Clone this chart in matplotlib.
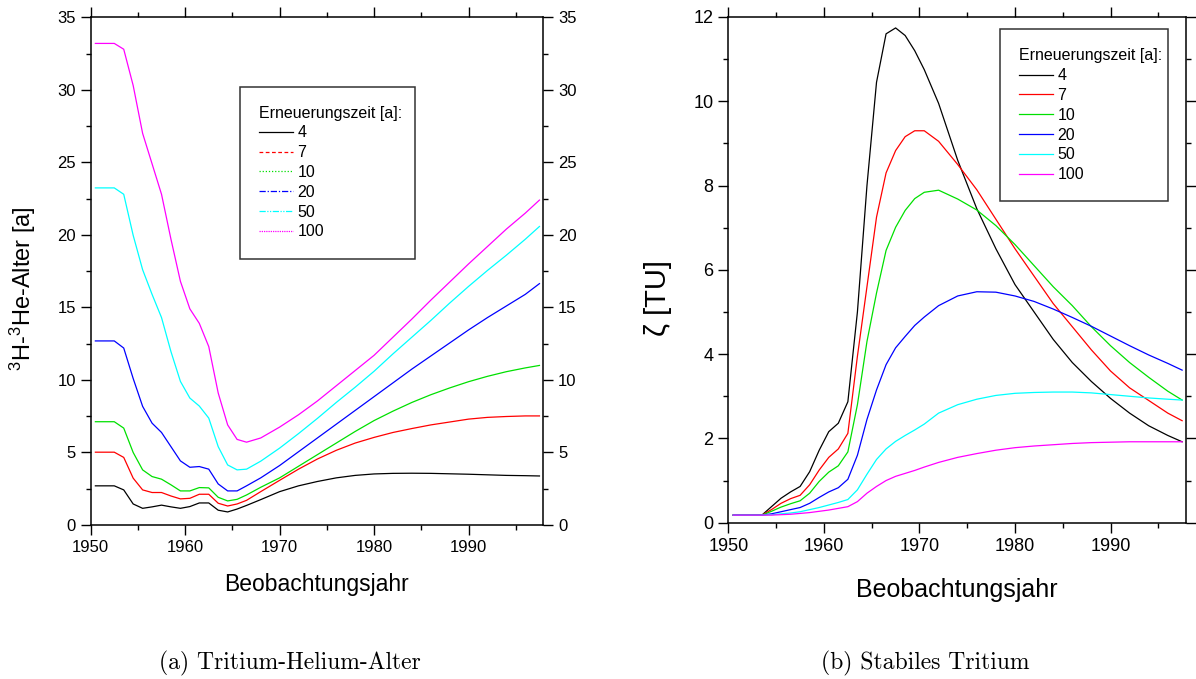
import matplotlib
matplotlib.use('Agg')
import matplotlib.pyplot as plt
from matplotlib.lines import Line2D
from matplotlib.ticker import MultipleLocator

plt.rcParams['font.family'] = ['Liberation Sans', 'DejaVu Sans']

# ---------------- data ----------------
renewal = ['4', '7', '10', '20', '50', '100']
colors = ['black', 'red', '#00e000', 'blue', 'cyan', 'magenta']

# (a) 3H-3He age [a]
years_age = [1950.5, 1951.5, 1952.5, 1953.5, 1954.5, 1955.5, 1956.5, 1957.5, 1958.5,
             1959.5, 1960.5, 1961.5, 1962.5, 1963.5, 1964.5, 1965.5, 1966.5,
             1968, 1970, 1972, 1974, 1976, 1978, 1980, 1982, 1984, 1986, 1988,
             1990, 1992, 1994, 1996, 1997.5]
age_4 = [2.7, 2.7, 2.7, 2.42, 1.45, 1.15, 1.25, 1.37, 1.25, 1.15, 1.27, 1.52, 1.52,
         1.02, 0.9, 1.1, 1.35,
         1.75, 2.3, 2.7, 3.0, 3.25, 3.42, 3.52, 3.56, 3.57, 3.56, 3.53, 3.5, 3.46,
         3.42, 3.4, 3.38]
age_7 = [5.02, 5.02, 5.02, 4.66, 3.23, 2.42, 2.24, 2.24, 2.0, 1.8, 1.84, 2.12, 2.12,
         1.5, 1.31, 1.45, 1.7,
         2.3, 3.08, 3.85, 4.55, 5.15, 5.65, 6.04, 6.38, 6.65, 6.9, 7.1, 7.3, 7.42,
         7.48, 7.52, 7.52]
age_10 = [7.12, 7.12, 7.12, 6.68, 5.0, 3.8, 3.34, 3.16, 2.77, 2.35, 2.35, 2.58, 2.56,
          1.91, 1.66, 1.77, 2.07,
          2.6, 3.25, 4.05, 4.85, 5.65, 6.45, 7.2, 7.85, 8.45, 8.98, 9.45, 9.88,
          10.25, 10.57, 10.83, 11.0]
age_20 = [12.69, 12.69, 12.69, 12.2, 10.1, 8.18, 7.02, 6.38, 5.4, 4.42, 3.98, 4.03,
          3.85, 2.83, 2.35, 2.35, 2.7,
          3.25, 4.1, 5.05, 6.0, 6.95, 7.9, 8.85, 9.8, 10.75, 11.65, 12.55, 13.45,
          14.3, 15.1, 15.9, 16.64]
age_50 = [23.24, 23.24, 23.24, 22.8, 19.97, 17.6, 15.9, 14.3, 11.95, 9.9, 8.75, 8.2,
          7.37, 5.4, 4.14, 3.8, 3.85,
          4.4, 5.3, 6.3, 7.35, 8.45, 9.5, 10.6, 11.8, 12.95, 14.1, 15.3, 16.45,
          17.55, 18.6, 19.7, 20.58]
age_100 = [33.2, 33.2, 33.2, 32.8, 30.3, 27.0, 24.9, 22.8, 19.7, 16.8, 14.9, 13.9,
           12.3, 9.1, 6.9, 5.9, 5.71,
           6.0, 6.75, 7.6, 8.55, 9.6, 10.65, 11.7, 12.95, 14.2, 15.5, 16.75, 18.0,
           19.2, 20.4, 21.5, 22.4]

# (b) stable tritium zeta [TU]
years_trit = [1950.5, 1951.5, 1952.5, 1953.5, 1954.5, 1955.5, 1956.5, 1957.5, 1958.5,
              1959.5, 1960.5, 1961.5, 1962.5, 1963.5, 1964.5, 1965.5, 1966.5, 1967.5,
              1968.5, 1969.5, 1970.5, 1972, 1974, 1976, 1978, 1980, 1982, 1984, 1986,
              1988, 1990, 1992, 1994, 1996, 1997.5]
trit_4 = [0.18, 0.18, 0.18, 0.18, 0.38, 0.58, 0.73, 0.86, 1.21, 1.72, 2.16, 2.36, 2.87,
          5.0, 8.0, 10.45, 11.6, 11.74, 11.56, 11.2, 10.75,
          9.95, 8.6, 7.45, 6.5, 5.65, 5.0, 4.35, 3.8, 3.35, 2.95, 2.6, 2.3,
          2.07, 1.92]
trit_7 = [0.18, 0.18, 0.18, 0.18, 0.31, 0.46, 0.57, 0.65, 0.9, 1.25, 1.55, 1.75, 2.12,
          3.95, 5.6, 7.25, 8.3, 8.83, 9.16, 9.3, 9.3,
          9.05, 8.5, 7.9, 7.2, 6.5, 5.85, 5.2, 4.65, 4.1, 3.6, 3.2, 2.9, 2.6,
          2.42]
trit_10 = [0.18, 0.18, 0.18, 0.18, 0.27, 0.37, 0.45, 0.52, 0.7, 0.98, 1.2, 1.35, 1.68,
           2.8, 4.3, 5.45, 6.46, 7.01, 7.41, 7.69, 7.84,
           7.89, 7.68, 7.42, 7.05, 6.6, 6.1, 5.6, 5.15, 4.65, 4.2, 3.8, 3.45,
           3.12, 2.91]
trit_20 = [0.18, 0.18, 0.18, 0.18, 0.21, 0.26, 0.31, 0.36, 0.46, 0.6, 0.73, 0.83, 1.03,
           1.6, 2.45, 3.15, 3.75, 4.15, 4.42, 4.68, 4.88,
           5.15, 5.38, 5.48, 5.47, 5.38, 5.25, 5.07, 4.87, 4.66, 4.43, 4.2,
           3.98, 3.78, 3.62]
trit_50 = [0.18, 0.18, 0.18, 0.18, 0.19, 0.21, 0.23, 0.26, 0.31, 0.36, 0.42, 0.48,
           0.55, 0.78, 1.15, 1.5, 1.75, 1.93, 2.07, 2.2, 2.34,
           2.6, 2.8, 2.93, 3.02, 3.07, 3.09, 3.1, 3.1, 3.08, 3.04, 3.0, 2.96,
           2.93, 2.91]
trit_100 = [0.18, 0.18, 0.18, 0.18, 0.18, 0.19, 0.2, 0.22, 0.24, 0.27, 0.3, 0.34,
            0.38, 0.5, 0.7, 0.86, 1.0, 1.1, 1.17, 1.24, 1.32,
            1.43, 1.55, 1.64, 1.72, 1.78, 1.82, 1.85, 1.88, 1.9, 1.91, 1.92,
            1.92, 1.92, 1.92]

ages = [age_4, age_7, age_10, age_20, age_50, age_100]
trits = [trit_4, trit_7, trit_10, trit_20, trit_50, trit_100]
legend_styles_a = ['-', (0, (3, 2)), (0, (1, 1.5)), (0, (5, 1.5, 1, 1.5)),
                   (0, (5, 1.2, 1, 1.2, 1, 1.2)), (0, (1, 0.8))]

fig = plt.figure(figsize=(11.96, 6.79), dpi=100)
ax1 = fig.add_axes([0.0758, 0.2268, 0.3784, 0.7477])
ax2 = fig.add_axes([0.6091, 0.2302, 0.3825, 0.7448])


def style_axes(ax, ymax, ymaj, ymin, right_labels):
    ax.set_xlim(1950, 1997.9)
    ax.set_ylim(0, ymax)
    ax.xaxis.set_major_locator(MultipleLocator(10))
    ax.xaxis.set_minor_locator(MultipleLocator(5))
    ax.yaxis.set_major_locator(MultipleLocator(ymaj))
    ax.yaxis.set_minor_locator(MultipleLocator(ymin))
    ax.tick_params(which='both', direction='out', top=True, right=True,
                   labelright=right_labels, width=1.0)
    ax.tick_params(which='major', length=7.2)
    ax.tick_params(which='minor', length=3.6)
    for s in ax.spines.values():
        s.set_linewidth(1.1)


def make_legend(ax, handles, anchor):
    leg = ax.legend(handles, renewal, title='Erneuerungszeit [a]:',
                    loc='upper left', bbox_to_anchor=anchor,
                    mode='expand', borderaxespad=0, alignment='left',
                    fontsize=11.5, title_fontsize=11.5, handlelength=2.1,
                    handletextpad=0.3, labelspacing=0.3, borderpad=1.2,
                    fancybox=False, framealpha=1)
    leg.get_frame().set_edgecolor('#333333')
    leg.get_frame().set_linewidth(1.1)
    return leg


# ---------------- (a) ----------------
for vals, c in zip(ages, colors):
    ax1.plot(years_age, vals, color=c, lw=0.9)
style_axes(ax1, 35, 5, 2.5, True)
ax1.tick_params(axis='both', which='major', labelsize=12, pad=3.5)
ax1.set_xlabel('Beobachtungsjahr', fontsize=16.5, va='center')
ax1.xaxis.set_label_coords(0.5, -0.118)
ax1.set_ylabel(r'$\mathregular{^3}$H-$\mathregular{^3}$He-Alter [a]',
               fontsize=17, va='center')
ax1.yaxis.set_label_coords(-0.15, 0.465)

handles_a = [Line2D([], [], color=c, lw=0.9, linestyle=ls)
             for c, ls in zip(colors, legend_styles_a)]
make_legend(ax1, handles_a, (0.33, 0.8637, 0.3865, 0.0))

# ---------------- (b) ----------------
for vals, c in zip(trits, colors):
    ax2.plot(years_trit, vals, color=c, lw=0.9)
style_axes(ax2, 12, 2, 1, False)
ax2.tick_params(axis='both', which='major', labelsize=13, pad=3.5)
ax2.set_xlabel('Beobachtungsjahr', fontsize=18, va='center')
ax2.xaxis.set_label_coords(0.5, -0.133)
ax2.set_ylabel('ζ [TU]', fontsize=21, va='center')
ax2.yaxis.set_label_coords(-0.154, 0.444)

handles_b = [Line2D([], [], color=c, lw=0.9) for c in colors]
make_legend(ax2, handles_b, (0.5934, 0.9757, 0.368, 0.0))

# captions
fig.text(290 / 1196, 1 - 663 / 679, '(a) Tritium-Helium-Alter', family='cmr10',
         fontsize=17, ha='center', va='center')
fig.text(925 / 1196, 1 - 663 / 679, '(b) Stabiles Tritium', family='cmr10',
         fontsize=17, ha='center', va='center')

fig.savefig('out.png', dpi=100)
